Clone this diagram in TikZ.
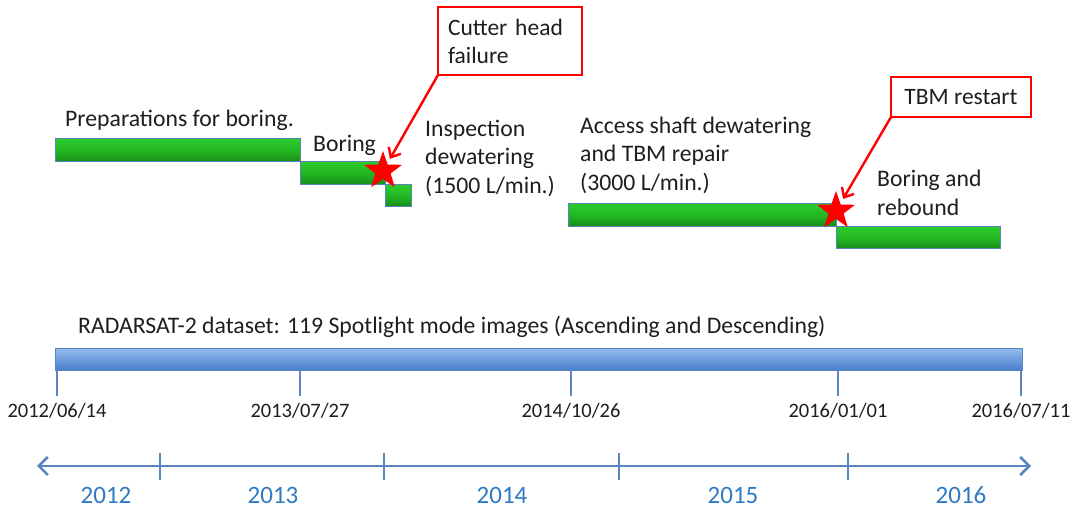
\documentclass[tikz,border=0pt]{standalone}
\usepackage{fontspec}
\setmainfont{Carlito}
\usetikzlibrary{shapes.geometric,arrows.meta}
\definecolor{txt}{HTML}{1E1E1E}
\definecolor{axisblue}{HTML}{5B86BF}
\definecolor{yearblue}{HTML}{2E7AC4}
\definecolor{gtop}{HTML}{2CCB2C}
\definecolor{gmid}{HTML}{22B722}
\definecolor{gbot}{HTML}{178A17}
\definecolor{btop}{HTML}{95BBF0}
\definecolor{bbot}{HTML}{467ECC}
\definecolor{edge}{HTML}{5A84B8}
\begin{document}
\begin{tikzpicture}[x=1pt,y=-1pt,
  gbar/.style={draw=edge,line width=1pt,top color=gtop,bottom color=gbot,middle color=gmid,anchor=north west,inner sep=0pt,outer sep=0pt},
  lbl/.style={text=txt,font=\fontsize{23.7}{28.5}\selectfont,inner sep=0pt,align=left,anchor=west},
  datelbl/.style={text=txt,font=\fontsize{20.5}{24}\selectfont,inner sep=0pt},
  yearlbl/.style={text=yearblue,font=\fontsize{25}{30}\selectfont,inner sep=0pt},
  callout/.style={draw=red,line width=2.6pt,text=txt,font=\fontsize{23.5}{28}\selectfont,anchor=north west,inner sep=0pt,outer sep=0pt},
  redstar/.style={star,star points=5,star point ratio=2.5,fill=red,draw=none,minimum size=40pt,inner sep=0pt},
  redarrow/.style={draw=red,line width=2.4pt,-{Straight Barb[length=8pt,width=14pt,line width=2.4pt]},shorten >=14pt},
  tick/.style={draw=axisblue,line width=2.6pt},
]
\useasboundingbox (0,0) rectangle (1080,510);
\fill[white] (0,0) rectangle (1080,510);

% green bars
\node[gbar,minimum width=245pt,minimum height=23pt] (prep) at (55,139) {};
\node[gbar,minimum width=85pt,minimum height=23pt] (boring) at (300,162) {};
\node[gbar,minimum width=26pt,minimum height=22pt] (insp) at (385,185) {};
\node[gbar,minimum width=268pt,minimum height=23pt] (access) at (568,204) {};
\node[gbar,minimum width=164pt,minimum height=22pt] (rebound) at (836,227) {};

% labels
\node[lbl] (tprep) at (65,120) {Preparations for boring.};
\node[lbl] (tboring) at (313,145) {Boring};
\node[lbl] (tinsp) at (425,158) {Inspection\\dewatering\\(1500 L/min.)};
\node[lbl] (taccess) at (580,155) {Access shaft dewatering\\and TBM repair\\(3000 L/min.)};
\node[lbl] (trebound) at (877,193) {Boring and\\rebound};

% stars
\node[redstar] (star1) at (383,171) {};
\node[redstar] (star2) at (836,211) {};

% callouts
\node[callout,minimum width=144pt,minimum height=68pt,align=left,text width=124pt,inner xsep=10pt] (cutter) at (438,7) {Cutter head\\failure};
\node[callout,minimum width=140pt,minimum height=40pt,align=center] (tbm) at (891,77) {TBM restart};
\draw[redarrow] (cutter.south west) -- (star1.center);
\draw[redarrow] (tbm.south west) -- (star2.center);

% RADARSAT bar
\node[lbl] (tradar) at (78,327) {RADARSAT-2 dataset: 119 Spotlight mode images (Ascending and Descending)};
\node[draw=edge,line width=1pt,top color=btop,bottom color=bbot,anchor=north west,minimum width=967pt,minimum height=22pt,inner sep=0pt] (radar) at (55,348) {};
\foreach \x/\d/\n in {57/2012\slash 06\slash 14/a,300/2013\slash 07\slash 27/b,571/2014\slash 10\slash 26/c,838/2016\slash 01\slash 01/d,1021/2016\slash 07\slash 11/e}{
  \coordinate (top\n) at (\x,370);
  \coordinate (bot\n) at (\x,396);
  \draw[tick] (top\n) -- (bot\n);
  \node[datelbl] (date\n) at (\x,411) {\d};
}

% year axis
\coordinate (axl) at (37,466);
\coordinate (axr) at (1031,466);
\draw[draw=axisblue,line width=2.6pt,{Straight Barb[length=9pt,width=18pt,line width=2.6pt]}-{Straight Barb[length=9pt,width=18pt,line width=2.6pt]}] (axl) -- (axr);
\foreach \x/\n in {160/a,384/b,619/c,848/d}{
  \coordinate (ya\n) at (\x,453);
  \coordinate (yb\n) at (\x,480);
  \draw[tick] (ya\n) -- (yb\n);
}
\node[yearlbl] (y12) at (106,495) {2012};
\node[yearlbl] (y13) at (273,495) {2013};
\node[yearlbl] (y14) at (502,495) {2014};
\node[yearlbl] (y15) at (733,495) {2015};
\node[yearlbl] (y16) at (961,495) {2016};
\end{tikzpicture}
\end{document}
